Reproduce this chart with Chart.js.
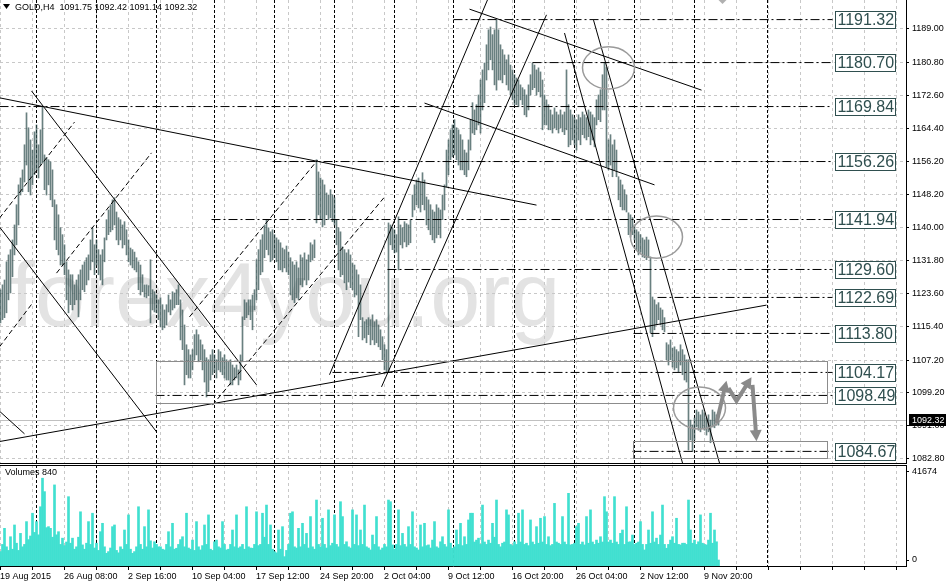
<!DOCTYPE html>
<html lang="en">
<head>
<meta charset="UTF-8">
<title>GOLD,H4</title>
<style>
  body { margin: 0; background: #fff; }
  #wrap { position: relative; width: 946px; height: 583px; overflow: hidden; }
  canvas { position: absolute; left: 0; }
  #priceChart { top: 0; }
  #volChart { top: 464px; }
</style>
</head>
<body>
<div id="wrap">
  <canvas id="priceChart" width="946" height="464"></canvas>
  <canvas id="volChart" width="946" height="119"></canvas>
</div>
<script src="https://cdn.jsdelivr.net/npm/chart.js@4"></script>
<script>
// ---- data (bar index = H4 bar counted from the left edge) ----
const header = ['GOLD,H4', '1091.75', '1092.42', '1091.14', '1092.32'];
const lastPrice = 1092.32;
const priceTicks = [1082.8, 1091.0, 1099.2, 1107.2, 1115.4, 1123.6, 1131.8, 1140.0, 1148.2, 1156.2, 1164.4, 1172.6, 1180.8, 1189.0];
const timeLabels = ['19 Aug 2015', '26 Aug 08:00', '2 Sep 16:00', '10 Sep 04:00', '17 Sep 12:00', '24 Sep 20:00',
  '2 Oct 04:00', '9 Oct 12:00', '16 Oct 20:00', '26 Oct 04:00', '2 Nov 12:00', '9 Nov 20:00'];
const volTickVals = [2500, 39200];
const volTickLabels = ['0', '41674'];
const volTitle = 'Volumes 840';

const highs = [
  1124.6,1125.8,1127.0,1131.5,1133.2,1134.5,1136.9,1140.6,1145.6,1150.5,
  1152.2,1154.2,1160.4,1168.3,1164.6,1161.6,1159.1,1163.6,1165.3,1160.4,
  1164.1,1169.8,1157.9,1157.2,1156.7,1156.2,1154.2,1146.8,1145.6,1143.1,
  1139.9,1138.2,1135.7,1131.5,1129.5,1128.3,1128.3,1125.8,1127.0,1128.3,
  1129.5,1130.7,1131.5,1132.5,1133.2,1136.9,1139.9,1135.7,1136.9,1134.5,
  1133.2,1134.5,1137.4,1141.9,1144.3,1145.6,1146.8,1147.3,1143.8,1142.4,
  1141.9,1140.6,1141.4,1139.4,1136.9,1134.9,1134.5,1133.9,1132.5,1131.5,
  1130.7,1128.3,1125.8,1125.8,1125.6,1132.0,1124.6,1124.1,1123.3,1122.1,
  1122.6,1120.9,1119.6,1120.9,1123.3,1122.1,1124.1,1123.8,1124.6,1125.8,
  1122.1,1119.6,1115.9,1111.0,1109.8,1108.5,1109.8,1113.5,1114.7,1113.5,
  1112.2,1111.0,1109.8,1107.8,1107.3,1108.5,1109.8,1108.5,1107.3,1109.8,
  1109.3,1107.8,1108.5,1107.3,1106.8,1107.3,1106.0,1105.3,1106.0,1104.8,
  1108.5,1117.9,1122.1,1121.4,1122.1,1122.1,1123.3,1124.6,1132.0,1134.5,
  1136.9,1138.2,1140.6,1141.9,1139.9,1138.9,1139.4,1138.2,1137.4,1136.9,
  1136.2,1134.9,1134.5,1135.4,1133.9,1132.5,1131.5,1130.7,1131.5,1130.0,
  1133.2,1132.5,1133.7,1132.0,1133.2,1136.2,1135.7,1136.9,1156.7,1153.7,
  1152.2,1151.7,1150.5,1148.5,1148.0,1149.3,1148.0,1147.3,1141.9,1139.9,
  1138.9,1135.2,1134.5,1133.7,1134.5,1133.2,1131.2,1130.7,1129.5,1128.3,
  1125.8,1117.7,1116.7,1117.2,1117.7,1117.2,1118.4,1116.7,1117.2,1115.9,
  1114.7,1113.0,1111.0,1109.8,1141.1,1140.6,1139.9,1139.4,1138.2,1142.6,
  1140.6,1139.9,1141.4,1140.9,1140.6,1141.9,1148.0,1150.5,1151.7,1152.2,
  1151.2,1153.5,1151.7,1147.5,1146.8,1145.6,1144.3,1143.8,1145.6,1144.8,
  1144.3,1148.0,1150.5,1159.1,1161.6,1164.1,1165.3,1166.6,1164.6,1164.1,
  1162.9,1161.6,1159.1,1158.4,1161.6,1166.6,1170.8,1169.0,1170.3,1172.7,
  1176.4,1178.9,1180.6,1185.1,1188.8,1189.5,1187.6,1188.8,1191.3,1188.8,
  1185.1,1183.9,1182.6,1181.4,1182.6,1180.1,1178.9,1177.7,1176.9,1176.4,
  1175.2,1174.5,1174.0,1172.7,1175.2,1177.7,1180.6,1180.1,1178.9,1179.4,
  1178.4,1176.4,1172.7,1171.5,1170.3,1169.0,1167.8,1169.5,1168.5,1167.8,
  1169.0,1167.8,1168.5,1178.9,1170.3,1169.0,1167.8,1167.1,1166.6,1167.8,
  1167.1,1168.5,1167.8,1167.1,1169.0,1168.5,1167.8,1167.1,1171.5,1172.7,
  1174.0,1177.7,1180.7,1179.5,1161.6,1162.9,1160.4,1161.6,1159.1,1152.5,
  1151.7,1150.5,1149.3,1148.0,1143.6,1143.1,1142.4,1140.6,1139.4,1138.9,
  1138.2,1137.4,1136.9,1137.6,1136.9,1132.7,1122.8,1122.1,1120.9,1121.4,
  1120.1,1119.6,1117.7,1111.5,1111.0,1112.2,1110.2,1110.5,1109.8,1109.3,
  1111.0,1109.8,1108.5,1107.3,1107.3,1092.4,1091.2,1092.9,1094.9,1094.4,
  1093.7,1094.9,1094.2,1092.9,1093.7,1092.4,1094.9,1094.4,1093.7,1092.42
];
const lows = [
  1116.4,1117.2,1117.7,1118.9,1122.1,1123.8,1127.8,1133.2,1135.7,1140.6,
  1148.0,1148.8,1151.2,1155.4,1148.8,1148.0,1150.5,1153.0,1154.2,1152.2,
  1155.4,1155.9,1149.3,1148.0,1150.5,1146.8,1145.1,1136.9,1134.5,1133.2,
  1130.7,1130.7,1128.3,1122.1,1118.9,1120.9,1119.6,1120.9,1122.1,1117.9,
  1122.1,1124.6,1124.1,1125.8,1127.0,1129.5,1131.5,1128.3,1130.7,1128.3,
  1127.0,1125.8,1131.5,1136.9,1138.2,1138.9,1139.4,1140.6,1136.9,1135.7,
  1136.9,1134.9,1135.7,1133.2,1131.5,1130.7,1130.0,1129.5,1129.0,1124.6,
  1123.3,1124.1,1122.8,1122.6,1123.1,1116.4,1119.6,1119.1,1118.9,1117.2,
  1115.4,1114.7,1115.2,1115.9,1119.1,1118.4,1119.6,1120.1,1120.9,1120.9,
  1112.2,1109.8,1101.1,1103.6,1102.8,1102.8,1104.8,1107.3,1108.5,1106.8,
  1107.3,1104.8,1101.8,1098.1,1099.4,1102.3,1103.6,1104.3,1102.8,1104.8,
  1104.3,1103.6,1102.8,1102.3,1102.3,1101.1,1101.1,1102.3,1102.8,1101.1,
  1102.3,1106.8,1117.2,1117.7,1118.4,1117.2,1114.7,1119.6,1122.1,1124.6,
  1128.3,1129.0,1132.5,1134.5,1133.2,1131.5,1132.0,1132.5,1131.5,1129.5,
  1129.5,1129.0,1130.0,1129.0,1128.3,1123.3,1122.1,1121.4,1122.6,1122.1,
  1125.8,1125.3,1127.0,1125.8,1127.0,1131.5,1132.0,1132.5,1141.1,1143.1,
  1141.9,1140.1,1140.6,1143.1,1141.9,1142.4,1141.4,1140.6,1135.7,1129.5,
  1127.8,1128.3,1126.3,1124.6,1126.5,1125.1,1124.6,1122.8,1123.3,1113.0,
  1117.2,1112.2,1112.7,1111.5,1113.5,1111.0,1112.2,1111.0,1111.5,1110.5,
  1109.8,1107.3,1104.8,1104.1,1104.3,1135.7,1134.5,1133.7,1133.9,1129.5,
  1135.7,1134.9,1136.4,1135.2,1135.7,1136.2,1142.6,1144.3,1145.6,1144.8,
  1143.8,1145.6,1144.3,1140.6,1139.4,1138.2,1136.9,1136.2,1137.4,1138.2,
  1137.4,1141.9,1144.3,1150.0,1153.0,1156.7,1157.4,1157.9,1156.7,1155.4,
  1154.2,1154.2,1153.0,1152.5,1154.2,1159.1,1163.3,1162.9,1164.1,1165.3,
  1163.3,1169.0,1170.8,1176.4,1178.9,1181.4,1178.9,1175.2,1173.9,1176.4,
  1176.4,1175.7,1177.7,1175.2,1173.9,1172.7,1171.5,1170.3,1170.3,1169.8,
  1171.5,1170.3,1167.8,1167.3,1169.0,1172.7,1174.0,1174.5,1172.7,1173.5,
  1172.2,1164.1,1165.3,1165.3,1164.1,1164.1,1163.3,1164.6,1164.1,1163.3,
  1164.6,1163.6,1162.9,1164.1,1159.9,1160.4,1161.6,1160.4,1159.1,1161.6,
  1160.4,1162.9,1162.1,1161.6,1162.4,1160.4,1161.6,1159.9,1165.3,1166.6,
  1166.1,1169.0,1169.0,1154.9,1154.2,1155.4,1152.5,1154.2,1152.5,1146.8,
  1145.1,1144.3,1144.3,1143.8,1138.2,1137.6,1138.2,1136.9,1134.5,1133.2,
  1133.9,1132.7,1132.5,1132.0,1132.5,1114.0,1113.0,1114.7,1115.9,1117.2,
  1115.9,1114.7,1114.2,1107.3,1106.0,1107.3,1105.5,1104.8,1105.3,1104.3,
  1106.0,1103.6,1102.3,1101.8,1085.0,1087.5,1084.67,1087.5,1090.7,1089.9,
  1089.5,1090.5,1089.9,1088.7,1089.5,1086.8,1090.7,1090.5,1091.2,1091.14
];
const volumes = [
  6000,9000,15700,8000,6500,12200,7000,17100,9500,6500,
  13600,8000,9000,18500,11000,12500,22000,14000,18500,13000,
  24700,36600,31000,16000,16400,15700,12000,33800,13000,14300,
  9000,11600,8500,10000,28900,9500,11600,7000,8000,12000,
  22600,8800,7000,9500,18500,9000,22000,7500,9500,6500,
  14300,17800,8000,5300,6000,7500,16400,17100,6500,5500,
  8000,7000,15000,9000,21300,7000,5300,6000,8000,24700,
  9000,7000,16400,8000,23400,10500,7500,10100,9000,8000,
  8000,7000,6700,9000,14300,8000,17800,7000,7400,9000,
  11000,12200,8000,22000,7500,7000,10800,6500,18500,8000,
  6700,8500,17100,9000,21300,7000,6500,10100,10800,8000,
  7500,18500,9000,6700,7000,9000,15000,8000,21300,7500,
  8000,9000,7000,24700,8000,7500,7400,9000,22600,8500,
  9000,22000,12000,25400,9000,17100,7000,6000,5500,15000,
  7000,16400,3900,6500,9000,22000,22600,8000,7500,15700,
  8000,17800,9000,13600,7500,20600,8000,7000,27500,9000,
  8000,19900,9000,7500,23400,8500,9500,21300,9000,8000,
  26800,20600,9000,10100,8000,7500,23400,9000,21300,8500,
  15000,9000,25400,8000,7500,6700,12900,9000,20600,8000,
  6700,7500,9000,8000,27500,26800,8800,7000,9000,23400,
  8500,13600,9000,8000,16400,9000,22600,8000,7500,6700,
  17100,8000,17800,8500,8800,7500,10800,18500,8000,7500,
  10100,12200,9000,8000,23400,9500,7400,8000,15000,9000,
  17800,8500,12200,9000,19200,22000,22000,10000,10800,11600,
  9000,25400,10000,9000,10800,9500,17800,12000,27500,9000,
  8000,9500,10000,23400,21300,9000,8500,10100,9000,22000,
  10000,23400,9000,9500,8500,19200,10000,9000,16400,9500,
  19900,10000,20600,9000,12200,8500,9000,26100,10000,9500,
  9000,20600,10000,9000,30300,8800,9000,9500,16400,17800,
  9000,10000,8800,20600,9500,23400,10000,9000,10800,9500,
  12200,10000,28900,22600,10000,10800,9500,28900,10000,9000,
  13600,15000,9000,24700,10000,10100,12900,9000,9500,10000,
  18500,9000,6700,9000,15000,9500,22600,10000,11600,9000,
  12900,25400,9000,7400,9000,10800,12200,9500,19900,9000,
  8800,9500,9500,9000,27500,15000,9500,10800,9000,10100,
  21300,9500,9000,8800,10800,22000,9500,15000,10100,2500
];

// week separators (between bars), horizontal levels and drawn objects, in [bar, price]
const weekStarts = [17.5, 47.5, 77.5, 106.5, 136.5, 166.5, 196.5, 226.5, 256.5, 286.5, 316.5, 346.5, 383];
const levels = [1191.32, 1180.70, 1169.84, 1156.26, 1141.94, 1129.60, 1122.69, 1113.80, 1104.17, 1098.49, 1084.67];
const levelFrom = [226.5, 266, -0.5, 136, 105.5, 193.5, 328.5, 316.5, 166, 77.5, 316];
const levelTo = 416;
const trendLines = [
  [[-0.5, 1172.0], [268, 1145.5]],
  [[15.5, 1173.7], [128, 1101.1]],
  [[-0.5, 1140.1], [78, 1089.5]],
  [[-0.5, 1094.6], [12, 1089.0]],
  [[-0.5, 1087.1], [383, 1120.8]],
  [[164.5, 1103.6], [243.5, 1196.2]],
  [[190.5, 1100.6], [273, 1192.5]],
  [[234.5, 1193.9], [350.5, 1173.9]],
  [[212, 1170.7], [327, 1150.5]],
  [[282, 1188.0], [341, 1081.8]],
  [[296.5, 1191.2], [359.5, 1081.8]]
];
const dashedLines = [
  [[-0.5, 1142.3], [37, 1166.0]],
  [[-0.5, 1110.5], [16, 1121.3]],
  [[28, 1128.7], [75.5, 1158.4]],
  [[94.5, 1117.9], [158.5, 1156.6]],
  [[106, 1096.1], [192, 1147.5]]
];
const boxes = [[77.5, 1107.0, 413, 1096.6], [316, 1087.2, 413, 1083.0]];
const circles = [[304, 1179.4], [328, 1137.6], [349.5, 1095.4]];
const circleSize = [13, 5.2];
const arrows = [
  [[358, 1091.7], [363, 1102.1]],
  [[364, 1100.3], [368, 1097.1], [375.5, 1103.0]],
  [[376, 1101.1], [378, 1087.2]]
];

const X_MIN = -0.25, X_MAX = 452.75;
const font = s => s + 'px "Liberation Sans", Arial, sans-serif';
const gridTicks = [];
for (let k = 0; k <= 28; k++) gridTicks.push(16 * k - 0.25);

const slate = '#2f4f4f';

const priceDecor = {
  id: 'priceDecor',
  beforeDraw(chart) {
    const {ctx, chartArea: a} = chart;
    ctx.save();
    ctx.beginPath(); ctx.rect(a.left, a.top, a.width, a.height); ctx.clip();
    ctx.fillStyle = '#e3e3e3';
    ctx.font = font(90);
    ctx.textBaseline = 'alphabetic';
    ctx.fillText('forex4you.org', a.left + 10, a.top + 326);
    ctx.restore();
  },
  beforeDatasetsDraw(chart) {
    const {ctx, chartArea: a, scales: {x, y}} = chart;
    ctx.save();
    ctx.lineWidth = 1;
    ctx.strokeStyle = '#000';
    ctx.setLineDash([3, 2]);
    weekStarts.forEach(v => {
      const px = Math.round(x.getPixelForValue(v)) + 0.5;
      ctx.beginPath(); ctx.moveTo(px, a.top); ctx.lineTo(px, a.bottom); ctx.stroke();
    });
    ctx.setLineDash([]);
    ctx.strokeStyle = '#c0c0c0';
    const py = Math.round(y.getPixelForValue(lastPrice)) + 0.5;
    ctx.beginPath(); ctx.moveTo(a.left, py); ctx.lineTo(a.right, py); ctx.stroke();
    ctx.restore();
  },
  afterDatasetsDraw(chart) {
    const {ctx, chartArea: a, scales: {x, y}} = chart;
    ctx.save();
    ctx.beginPath(); ctx.rect(a.left, a.top, a.width, a.height); ctx.clip();

    ctx.strokeStyle = '#8c8c8c';
    ctx.lineWidth = 1;
    boxes.forEach(b => {
      const x1 = Math.round(x.getPixelForValue(b[0])) + 0.5, x2 = Math.round(x.getPixelForValue(b[2])) + 0.5;
      const y1 = Math.round(y.getPixelForValue(b[1])) + 0.5, y2 = Math.round(y.getPixelForValue(b[3])) + 0.5;
      ctx.strokeRect(x1, y1, x2 - x1, y2 - y1);
    });

    ctx.strokeStyle = '#9a9a9a';
    ctx.lineWidth = 1.5;
    circles.forEach(c => {
      const cx = x.getPixelForValue(c[0]), cy = y.getPixelForValue(c[1]);
      const rx = x.getPixelForValue(c[0] + circleSize[0]) - cx;
      const ry = cy - y.getPixelForValue(c[1] + circleSize[1]);
      ctx.beginPath(); ctx.ellipse(cx, cy, rx, ry, 0, 0, Math.PI * 2); ctx.stroke();
    });

    ctx.strokeStyle = '#8a8a8a';
    ctx.fillStyle = '#8a8a8a';
    ctx.lineWidth = 4;
    ctx.lineJoin = 'miter';
    arrows.forEach(path => {
      const pts = path.map(p => [x.getPixelForValue(p[0]), y.getPixelForValue(p[1])]);
      const n = pts.length;
      const [tx, ty] = pts[n - 1], [fx, fy] = pts[n - 2];
      const ang = Math.atan2(ty - fy, tx - fx);
      const head = 11;
      ctx.beginPath();
      ctx.moveTo(pts[0][0], pts[0][1]);
      for (let i = 1; i < n - 1; i++) ctx.lineTo(pts[i][0], pts[i][1]);
      ctx.lineTo(tx - Math.cos(ang) * head * 0.8, ty - Math.sin(ang) * head * 0.8);
      ctx.stroke();
      ctx.beginPath();
      ctx.moveTo(tx, ty);
      ctx.lineTo(tx - head * Math.cos(ang) + 6 * Math.sin(ang), ty - head * Math.sin(ang) - 6 * Math.cos(ang));
      ctx.lineTo(tx - head * Math.cos(ang) - 6 * Math.sin(ang), ty - head * Math.sin(ang) + 6 * Math.cos(ang));
      ctx.closePath();
      ctx.fill();
    });

    // level tags
    ctx.lineWidth = 1;
    ctx.font = font(16);
    ctx.textBaseline = 'middle';
    levels.forEach(lv => {
      const py = y.getPixelForValue(lv);
      const bx = Math.round(x.getPixelForValue(levelTo + 1)) + 0.5;
      const by = Math.round(py - 8.5) + 0.5;
      ctx.fillStyle = '#fff';
      ctx.fillRect(bx, by, 60, 17);
      ctx.strokeStyle = slate;
      ctx.strokeRect(bx, by, 60, 17);
      ctx.fillStyle = slate;
      ctx.fillText(lv.toFixed(2), bx + 2, py + 1);
    });

    // chart shift marker
    const sx = x.getPixelForValue(highs.length + 1);
    ctx.fillStyle = '#b0b0b0';
    ctx.beginPath(); ctx.moveTo(sx - 4, a.top); ctx.lineTo(sx + 4, a.top); ctx.lineTo(sx, a.top + 4); ctx.fill();
    ctx.restore();
  },
  afterDraw(chart) {
    const {ctx, chartArea: a, scales: {y}} = chart;
    ctx.save();
    const py = y.getPixelForValue(lastPrice);
    ctx.fillStyle = '#000';
    ctx.fillRect(a.right + 3, Math.round(py) - 6, chart.width - a.right - 3, 12);
    ctx.fillStyle = '#fff';
    ctx.font = font(9);
    ctx.textBaseline = 'middle';
    ctx.fillText(lastPrice.toFixed(2), a.right + 6, py);

    ctx.fillStyle = '#000';
    ctx.beginPath(); ctx.moveTo(3, 4); ctx.lineTo(10, 4); ctx.lineTo(6.5, 9); ctx.closePath(); ctx.fill();
    ctx.fillText(header[0] + '  ' + header.slice(1).join(' '), 15, 7.5);
    ctx.restore();
  }
};

const volDecor = {
  id: 'volDecor',
  beforeDatasetsDraw(chart) {
    const {ctx, chartArea: a, scales: {x}} = chart;
    ctx.save();
    ctx.lineWidth = 1;
    ctx.strokeStyle = '#000';
    ctx.setLineDash([3, 2]);
    weekStarts.forEach(v => {
      const px = Math.round(x.getPixelForValue(v)) + 0.5;
      ctx.beginPath(); ctx.moveTo(px, a.top); ctx.lineTo(px, a.bottom); ctx.stroke();
    });
    ctx.restore();
  },
  afterDraw(chart) {
    const {ctx, chartArea: a} = chart;
    ctx.save();
    ctx.strokeStyle = '#000';
    ctx.lineWidth = 1;
    ctx.beginPath(); ctx.moveTo(a.left, a.top + 0.5); ctx.lineTo(a.right, a.top + 0.5); ctx.stroke();
    ctx.fillStyle = '#000';
    ctx.font = font(9);
    ctx.textBaseline = 'middle';
    ctx.fillText(volTitle, a.left + 5, a.top + 8);
    ctx.restore();
  }
};

const noPad = s => { s.paddingLeft = 0; s.paddingRight = 0; s.paddingTop = 0; s.paddingBottom = 0; };

const lineSet = (pts, dash) => ({
  type: 'line',
  data: pts.map(p => ({x: p[0], y: p[1]})),
  borderColor: '#000',
  borderWidth: 1,
  borderDash: dash,
  pointRadius: 0,
  fill: false,
  order: 0
});

const priceSets = [];
trendLines.forEach(l => priceSets.push(lineSet(l, [])));
dashedLines.forEach(l => priceSets.push(lineSet(l, [5, 3])));
levels.forEach((lv, i) => priceSets.push(lineSet([[levelFrom[i], lv], [levelTo, lv]], [9, 3, 2, 3])));
priceSets.push({
  type: 'bar',
  data: highs.map((h, i) => ({x: i, y: [lows[i], h]})),
  backgroundColor: 'rgba(47, 79, 79, 0.72)',
  barThickness: 1,
  order: 10
});

Chart.defaults.font.family = '"Liberation Sans", Arial, sans-serif';
Chart.defaults.font.size = 9;
Chart.defaults.color = '#000';

new Chart(document.getElementById('priceChart'), {
  type: 'bar',
  data: {datasets: priceSets},
  options: {
    responsive: false,
    animation: false,
    layout: {padding: {top: 0, left: 0, right: 0, bottom: 1}},
    plugins: {legend: {display: false}, tooltip: {enabled: false}},
    scales: {
      x: {
        type: 'linear', min: X_MIN, max: X_MAX, offset: false,
        grid: {offset: false, color: '#c8c8c8', drawTicks: false},
        border: {display: true, color: '#000', dash: [3, 3]},
        ticks: {display: false},
        afterBuildTicks: s => { s.ticks = gridTicks.map(v => ({value: v})); },
        afterFit: s => { s.height = 0; noPad(s); }
      },
      y: {
        type: 'linear', position: 'right', min: 1081.8, max: 1196.16, beginAtZero: false,
        grid: {color: '#c8c8c8', tickColor: '#000', tickLength: 3},
        border: {display: true, color: '#000', dash: [3, 3]},
        ticks: {padding: 3, font: {size: 9}, callback: v => Number(v).toFixed(2)},
        afterBuildTicks: s => { s.ticks = priceTicks.map(v => ({value: v})); },
        afterFit: s => { s.width = 40; noPad(s); }
      }
    }
  },
  plugins: [priceDecor]
});

new Chart(document.getElementById('volChart'), {
  type: 'bar',
  data: {
    datasets: [{
      data: volumes.map((v, i) => ({x: i, y: v})),
      backgroundColor: '#40e0d0',
      barPercentage: 1,
      categoryPercentage: 1
    }]
  },
  options: {
    responsive: false,
    animation: false,
    layout: {padding: {top: 1, left: 0, right: 0, bottom: 0}},
    plugins: {legend: {display: false}, tooltip: {enabled: false}},
    scales: {
      x: {
        type: 'linear', min: X_MIN, max: X_MAX, offset: false,
        grid: {offset: false, color: '#c8c8c8', tickColor: '#000', tickLength: 4},
        border: {display: true, color: '#000', dash: [3, 3]},
        ticks: {
          autoSkip: false, maxRotation: 0, align: 'start', padding: 1, font: {size: 9},
          callback: (v, i) => (i % 2 === 0 && timeLabels[i / 2]) ? timeLabels[i / 2] : ''
        },
        afterBuildTicks: s => { s.ticks = gridTicks.map(v => ({value: v})); },
        afterFit: s => { s.height = 17; noPad(s); }
      },
      y: {
        type: 'linear', position: 'right', min: 0, max: 42100,
        grid: {drawOnChartArea: false, tickColor: '#000', tickLength: 3},
        border: {display: true, color: '#000'},
        ticks: {padding: 3, font: {size: 9}, callback: (v, i) => volTickLabels[i]},
        afterBuildTicks: s => { s.ticks = volTickVals.map(v => ({value: v})); },
        afterFit: s => { s.width = 40; noPad(s); }
      }
    }
  },
  plugins: [volDecor]
});
</script>
</body>
</html>
